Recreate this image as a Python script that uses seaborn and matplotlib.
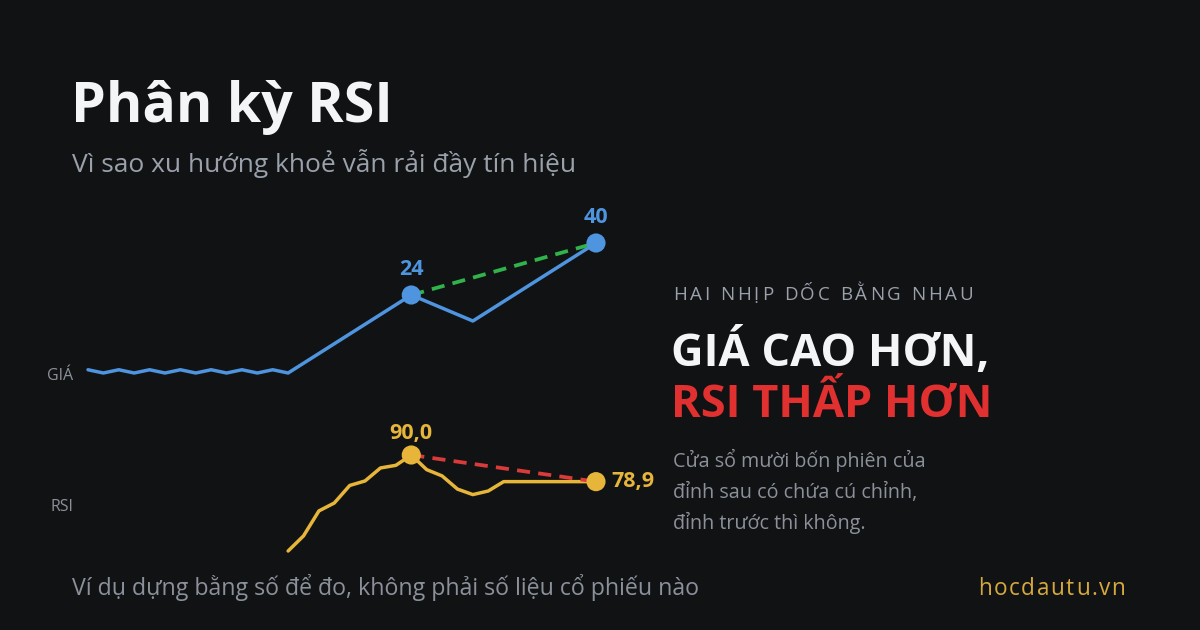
import matplotlib
matplotlib.use("Agg")
import matplotlib.pyplot as plt
import seaborn as sns
import pandas as pd

# ---------------- data ----------------
price_idx = list(range(34))
price = [1, 0, 1, 0, 1, 0, 1, 0, 1, 0, 1, 0, 1, 0,
         3, 6, 9, 12, 15, 18, 21, 24,
         22, 20, 18, 16,
         19, 22, 25, 28, 31, 34, 37, 40]
rsi_idx = list(range(13, 34))
rsi = [50.0, 56.3, 66.7, 70.0, 77.3, 79.2, 84.6, 85.7, 90.0,
       83.9, 81.3, 75.8, 73.5, 75.0,
       78.9, 78.9, 78.9, 78.9, 78.9, 78.9, 78.9]
peak_idx = [21, 33]

title = "Phân kỳ RSI"
subtitle = "Vì sao xu hướng khoẻ vẫn rải đầy tín hiệu"
kicker = "HAI NHỊP DỐC BẰNG NHAU"
head1 = "GIÁ CAO HƠN,"
head2 = "RSI THẤP HƠN"
body = ["Cửa sổ mười bốn phiên của", "đỉnh sau có chứa cú chỉnh,", "đỉnh trước thì không."]
footer = "Ví dụ dựng bằng số để đo, không phải số liệu cổ phiếu nào"
brand = "hocdautu.vn"
row_labels = ["GIÁ", "RSI"]

# ---------------- style ----------------
BG = "#111214"
BLUE = "#4f94de"
GOLD = "#e6b53a"
GREEN = "#2fb34a"
RED = "#d93a3a"
REDTXT = "#e0302f"
GREY = "#9aa1ab"
GREY2 = "#8b919a"
BRAND = "#d6a93c"
FONTS = ["Open Sans", "Noto Sans", "DejaVu Sans"]

sns.set_theme(style="dark")
plt.rcParams["font.family"] = FONTS
plt.rcParams["axes.facecolor"] = "none"
plt.rcParams["figure.facecolor"] = BG

W, H = 1200, 630
fig = plt.figure(figsize=(12, 6.3), dpi=100)
fig.patch.set_facecolor(BG)


def rect(x0, x1, ytop, ybot):
    return [x0 / W, 1 - ybot / H, (x1 - x0) / W, (ybot - ytop) / H]


# text overlay in pixel coords
ax_t = fig.add_axes([0, 0, 1, 1])
ax_t.set_xlim(0, W)
ax_t.set_ylim(H, 0)
ax_t.axis("off")

fig.canvas.draw()
renderer = fig.canvas.get_renderer()


def spaced(x, y, s, size, color, gap, space_w, weight="normal"):
    for ch in s:
        if ch == " ":
            x += space_w + gap
            continue
        t = ax_t.text(x, y, ch, fontsize=size, color=color, va="baseline", fontweight=weight)
        bb = t.get_window_extent(renderer=renderer)
        x += bb.width + gap


ax_t.text(71, 122, title, fontsize=40, fontweight="bold", color="#f4f5f7", va="baseline")
ax_t.text(72, 172, subtitle, fontsize=19, color=GREY, va="baseline")

spaced(673, 300, kicker, 13.5, GREY, 2.7, 5.5)

ax_t.text(671, 366, head1, fontsize=32.5, fontweight="bold", color="#f4f5f7", va="baseline")
ax_t.text(671, 417, head2, fontsize=32.5, fontweight="bold", color=REDTXT, va="baseline")
for i, line in enumerate(body):
    ax_t.text(673, 467 + 31 * i, line, fontsize=14.2, color=GREY2, va="baseline")

ax_t.text(72, 595, footer, fontsize=16.7, color=GREY2, va="baseline")
spaced(978, 595, brand, 16.3, BRAND, 1.6, 5)

ax_t.text(47, 376, row_labels[0], fontsize=11.5, color=GREY2, va="center")
ax_t.text(50, 507, row_labels[1], fontsize=11.5, color=GREY2, va="center")

# ---------------- price panel ----------------
ax_p = fig.add_axes(rect(88, 596, 236.5, 379.5))
ax_p.set_xlim(0, 33)
ax_p.set_ylim(-2, 42)
ax_p.axis("off")
dfp = pd.DataFrame({"i": price_idx, "v": price})
sns.lineplot(data=dfp, x="i", y="v", ax=ax_p, color=BLUE, lw=2.5, clip_on=False)
dfp_pk = dfp[dfp["i"].isin(peak_idx)]
sns.lineplot(data=dfp_pk, x="i", y="v", ax=ax_p, color=GREEN, lw=2.7,
             linestyle=(0, (3.5, 2.2)), clip_on=False, zorder=3)
sns.scatterplot(data=dfp_pk, x="i", y="v", ax=ax_p, color=BLUE, s=190,
                edgecolor="none", clip_on=False, zorder=4)
for _, r in dfp_pk.iterrows():
    ax_p.annotate(f"{r['v']:.0f}", (r["i"], r["v"]), xytext=(0, 11),
                  textcoords="offset points", ha="center", va="bottom",
                  fontsize=15.5, fontweight="bold", color=BLUE, annotation_clip=False)

# ---------------- RSI panel ----------------
ax_r = fig.add_axes(rect(88, 596, 443, 563))
ax_r.set_xlim(0, 33)
ax_r.set_ylim(45, 95)
ax_r.axis("off")
dfr = pd.DataFrame({"i": rsi_idx, "v": rsi})
sns.lineplot(data=dfr, x="i", y="v", ax=ax_r, color=GOLD, lw=2.5, clip_on=False)
dfr_pk = dfr[dfr["i"].isin(peak_idx)]
sns.lineplot(data=dfr_pk, x="i", y="v", ax=ax_r, color=RED, lw=2.7,
             linestyle=(0, (3.5, 2.2)), clip_on=False, zorder=3)
sns.scatterplot(data=dfr_pk, x="i", y="v", ax=ax_r, color=GOLD, s=190,
                edgecolor="none", clip_on=False, zorder=4)
first = dfr_pk.iloc[0]
last = dfr_pk.iloc[-1]
ax_r.annotate(f"{first['v']:.1f}".replace(".", ","), (first["i"], first["v"]),
              xytext=(0, 8), textcoords="offset points", ha="center", va="bottom",
              fontsize=15.5, fontweight="bold", color=GOLD, annotation_clip=False)
ax_r.annotate(f"{last['v']:.1f}".replace(".", ","), (last["i"], last["v"]),
              xytext=(11, 0), textcoords="offset points", ha="left", va="center",
              fontsize=15.5, fontweight="bold", color=GOLD, annotation_clip=False)

for a in (ax_p, ax_r):
    leg = a.get_legend()
    if leg:
        leg.remove()

fig.savefig("out.png", dpi=100, facecolor=BG)
